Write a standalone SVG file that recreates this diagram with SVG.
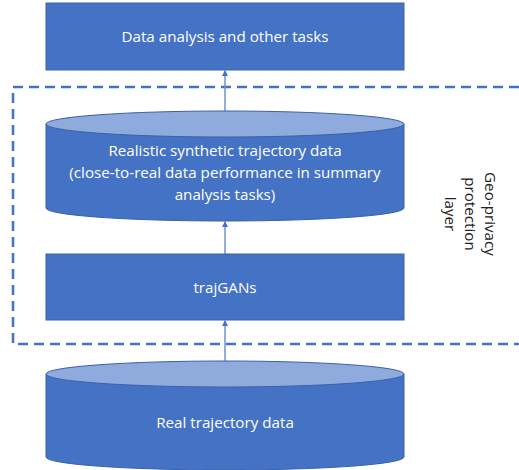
<svg xmlns="http://www.w3.org/2000/svg" width="519" height="470" viewBox="0 0 519 470">
<style>
.box{fill:#4472C4;stroke:#3A62A8;stroke-width:1}
.top{fill:#8FAADC;stroke:#3A62A8;stroke-width:1}
.t{font-family:"Open Sans","Liberation Sans",sans-serif;font-size:15.2px;fill:#FFFFFF;text-anchor:middle}
.g{font-family:"Open Sans","Liberation Sans",sans-serif;font-size:15.2px;fill:#222222;text-anchor:middle}
.c{stroke:#6F93D2;stroke-width:1.5;fill:none;marker-end:url(#ah)}
.layer{fill:none;stroke:#4472C4;stroke-width:2.5;stroke-dasharray:10 6}
</style>
<defs>
<marker id="ah" markerWidth="6" markerHeight="6" refX="5" refY="3" orient="auto" markerUnits="userSpaceOnUse">
<path d="M0,0 L6,3 L0,6 Z" fill="#4472C4"/>
</marker>
</defs>
<rect width="519" height="470" fill="#FFFFFF"/>
<g id="layer">
<path class="layer" d="M519,87 H13 V344 H519"/>
<text class="g" transform="translate(470,214) rotate(90)"><tspan x="0" y="-15">Geo-privacy</tspan><tspan x="0" y="5">protection</tspan><tspan x="0" y="25">layer</tspan></text>
</g>
<g id="connectors">
<line class="c" x1="225" y1="111" x2="225" y2="71"/>
<line class="c" x1="225" y1="254" x2="225" y2="222"/>
<line class="c" x1="225" y1="361" x2="225" y2="321"/>
</g>
<g id="tasks">
<rect class="box" x="46" y="3" width="358" height="67"/>
<text class="t" x="225" y="42">Data analysis and other tasks</text>
</g>
<g id="synthetic">
<path class="box" d="M46,124 V208 A179,13 0 0 0 404,208 V124 Z"/>
<ellipse class="top" cx="225" cy="124" rx="179" ry="13"/>
<text class="t"><tspan x="225" y="156">Realistic synthetic trajectory data</tspan><tspan x="225" y="178">(close-to-real data performance in summary</tspan><tspan x="225" y="200">analysis tasks)</tspan></text>
</g>
<g id="trajgans">
<rect class="box" x="46" y="254" width="358" height="66"/>
<text class="t" x="225" y="293">trajGANs</text>
</g>
<g id="real">
<path class="box" d="M46,374 V457 A179,13 0 0 0 404,457 V374 Z"/>
<ellipse class="top" cx="225" cy="374" rx="179" ry="13"/>
<text class="t" x="225" y="428">Real trajectory data</text>
</g>
</svg>
